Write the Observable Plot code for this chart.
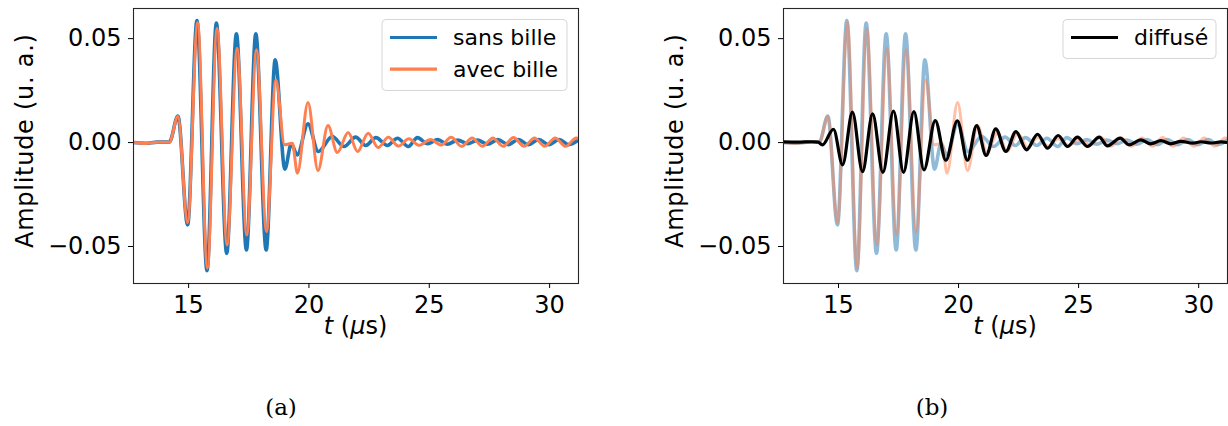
<!DOCTYPE html>
<html><head><meta charset="utf-8">
<script src="https://cdn.jsdelivr.net/npm/d3@7"></script>
<script src="https://cdn.jsdelivr.net/npm/@observablehq/plot@0.6"></script>
<style>
body{margin:0;background:#fff;}
#wrap{position:relative;width:1228px;height:426px;font-family:"DejaVu Sans",sans-serif;overflow:hidden;}
.panel{position:absolute;top:0;}
.cap{position:absolute;top:396px;line-height:1;font-family:"DejaVu Serif",serif;font-size:23px;transform:translateX(-50%);color:#000;}
</style></head><body><div id="wrap"></div>
<script>
// ---- data ----
const xTicks = [15, 20, 25, 30];
const yTicks = [-0.05, 0, 0.05];
const xDomain = [12.71, 31.2];
const yDomain = [-0.0678, 0.0645];

const tSans = [12.71, 13.2, 13.7, 14.2, 14.556, 14.958, 15.347, 15.764, 16.153, 16.583, 16.986, 17.403, 17.792, 18.222, 18.597, 19.0, 19.264, 19.514, 19.958, 20.389, 20.97, 21.46, 21.94, 22.36, 22.78, 23.26, 23.68, 24.13, 24.51, 24.93, 25.35, 25.76, 26.18, 26.6, 27.0, 27.42, 27.85, 28.28, 28.7, 29.12, 29.55, 29.97, 30.4, 30.8, 31.2];
const ampSans = [0, -0.0003, 0.0002, 0.0002, 0.0128, -0.0396, 0.0587, -0.0616, 0.0575, -0.0533, 0.0523, -0.0517, 0.0523, -0.0517, 0.0398, -0.0128, -0.0006, -0.0059, 0.0090, -0.0043, 0.0029, -0.0019, 0.0026, -0.0014, 0.0024, -0.0014, 0.0021, -0.0019, 0.0024, -0.0006, 0.0014, -0.0008, 0.0012, -0.0006, 0.0012, -0.0008, 0.0014, -0.0010, 0.0015, -0.0010, 0.0015, -0.0010, 0.0015, -0.0010, 0.0012];

const tAvec = [12.71, 13.2, 13.7, 14.2, 14.556, 14.958, 15.375, 15.778, 16.181, 16.597, 17.014, 17.417, 17.819, 18.236, 18.625, 18.99, 19.31, 19.52, 19.96, 20.375, 20.79, 21.18, 21.63, 22.02, 22.46, 22.875, 23.3, 23.72, 24.15, 24.58, 25.05, 25.49, 25.91, 26.34, 26.78, 27.21, 27.64, 28.07, 28.5, 28.94, 29.37, 29.8, 30.23, 30.67, 31.1, 31.2];
const ampAvec = [0, -0.0004, 0.0002, 0.0002, 0.0125, -0.0385, 0.0578, -0.0605, 0.0550, -0.0493, 0.0454, -0.0445, 0.0446, -0.0428, 0.0302, -0.0011, -0.0003, -0.0147, 0.0193, -0.0135, 0.0082, -0.0048, 0.0048, -0.0043, 0.0045, -0.0024, 0.0025, -0.0017, 0.0018, -0.0013, 0.0015, -0.0012, 0.0025, -0.0018, 0.0022, -0.0018, 0.0022, -0.0018, 0.0024, -0.0018, 0.0022, -0.0018, 0.0022, -0.0018, 0.0022, 0.0019];

const tDiff = [12.71, 13.3, 13.9, 14.15, 14.33, 14.79, 15.17, 15.58, 16.0, 16.42, 16.85, 17.29, 17.71, 18.14, 18.56, 19.03, 19.47, 19.95, 20.37, 20.75, 21.15, 21.55, 21.97, 22.39, 22.83, 23.29, 23.71, 24.15, 24.54, 24.95, 25.37, 25.86, 26.2, 26.73, 27.1, 27.59, 28.0, 28.43, 28.84, 29.26, 29.75, 30.1, 30.51, 30.93, 31.2];
const ampDiff = [0.0003, 0.0002, 0.0004, 0.0002, -0.0011, 0.0064, -0.0107, 0.0146, -0.0140, 0.0138, -0.0143, 0.0152, -0.0143, 0.0149, -0.0132, 0.0106, -0.0085, 0.0105, -0.0085, 0.0082, -0.0062, 0.0066, -0.0043, 0.0053, -0.0035, 0.0040, -0.0027, 0.0034, -0.0019, 0.0026, -0.0019, 0.0026, -0.0016, 0.0021, -0.0011, 0.0013, -0.0006, 0.0009, -0.0006, 0.0006, -0.0003, 0.0004, -0.0002, 0.0003, 0];

const seriesNames = ["sans bille", "avec bille", "diffusé"];
const seriesColors = ["#1f77b4", "#ff7f50", "#000000"];

const zip = (t, a) => t.map((v, i) => ({t: v, a: a[i]}));
const sans = zip(tSans, ampSans), avec = zip(tAvec, ampAvec), diff = zip(tDiff, ampDiff);

const FS = 24;
function panel(series, ml, mr) {
  const marks = [
    ...series.map(s => Plot.line(s.data, {x: "t", y: "a", stroke: s.color, strokeWidth: s.w, strokeOpacity: s.op, curve: "monotone-x", clip: true})),
    Plot.frame({stroke: "#262626", strokeWidth: 1.1}),
    Plot.axisX({ticks: xTicks, tickSize: 5, tickPadding: 7, tickFormat: d3.format("d"), label: null, fontSize: FS}),
    Plot.axisY({ticks: yTicks, tickSize: 5, tickPadding: 7, tickFormat: d3.format(".2f"), label: null, fontSize: FS})
  ];
  return Plot.plot({
    width: 614, height: 360, marginLeft: ml, marginRight: mr, marginTop: 8, marginBottom: 77,
    x: {domain: xDomain}, y: {domain: yDomain},
    style: {fontSize: FS + "px", fontFamily: "DejaVu Sans", color: "#000", background: "transparent", overflow: "visible"},
    marks
  });
}

function decorate(svg, ml, mr, legendItems, legendBox) {
  const s = d3.select(svg);
  const cx = (ml + 614 - mr) / 2;
  s.append("text").attr("transform", `translate(${ml - 108},141) rotate(-90)`)
    .attr("text-anchor", "middle").attr("dy", "0.35em").attr("font-size", FS)
    .attr("textLength", 214).attr("lengthAdjust", "spacing")
    .text("Amplitude (u. a.)");
  const xl = s.append("text").attr("x", cx).attr("y", 334).attr("text-anchor", "middle").attr("font-size", FS);
  xl.append("tspan").attr("font-style", "italic").text("t");
  xl.append("tspan").text(" (");
  xl.append("tspan").attr("font-style", "italic").text("μ");
  xl.append("tspan").text("s)");
  const g = s.append("g").attr("text-anchor", "start");
  g.append("rect").attr("x", legendBox[0]).attr("y", legendBox[1]).attr("width", legendBox[2]).attr("height", legendBox[3])
    .attr("rx", 4).attr("fill", "rgba(255,255,255,0.8)").attr("stroke", "#d6d6d6").attr("stroke-width", 1);
  legendItems.forEach((it, i) => {
    const y = legendBox[1] + 18 + i * 31.7;
    g.append("line").attr("x1", legendBox[0] + 8).attr("x2", legendBox[0] + 55).attr("y1", y).attr("y2", y)
      .attr("stroke", it.color).attr("stroke-width", 3.2);
    g.append("text").attr("x", legendBox[0] + 71).attr("y", y).attr("dy", "0.36em").attr("font-size", 22)
      .attr("text-anchor", "start").text(it.name);
  });
}

const wrap = document.getElementById("wrap");

const left = panel([
  {data: sans, color: seriesColors[0], w: 3.6, op: 1},
  {data: avec, color: seriesColors[1], w: 3, op: 1}
], 133, 36);
left.classList.add("panel"); left.style.left = "0px";
wrap.appendChild(left);
decorate(left, 133, 36, [{name: seriesNames[0], color: seriesColors[0]}, {name: seriesNames[1], color: seriesColors[1]}], [382, 19.5, 185, 71]);

const right = panel([
  {data: sans, color: seriesColors[0], w: 3.6, op: 0.5},
  {data: avec, color: seriesColors[1], w: 3, op: 0.5},
  {data: diff, color: seriesColors[2], w: 3.2, op: 1}
], 169, 1);
right.classList.add("panel"); right.style.left = "614px";
wrap.appendChild(right);
decorate(right, 169, 1, [{name: seriesNames[2], color: seriesColors[2]}], [449, 19.5, 153, 39]);

const ca = document.createElement("div"); ca.className = "cap"; ca.style.left = "281px"; ca.textContent = "(a)"; wrap.appendChild(ca);
const cb = document.createElement("div"); cb.className = "cap"; cb.style.left = "932px"; cb.textContent = "(b)"; wrap.appendChild(cb);
</script></body></html>
